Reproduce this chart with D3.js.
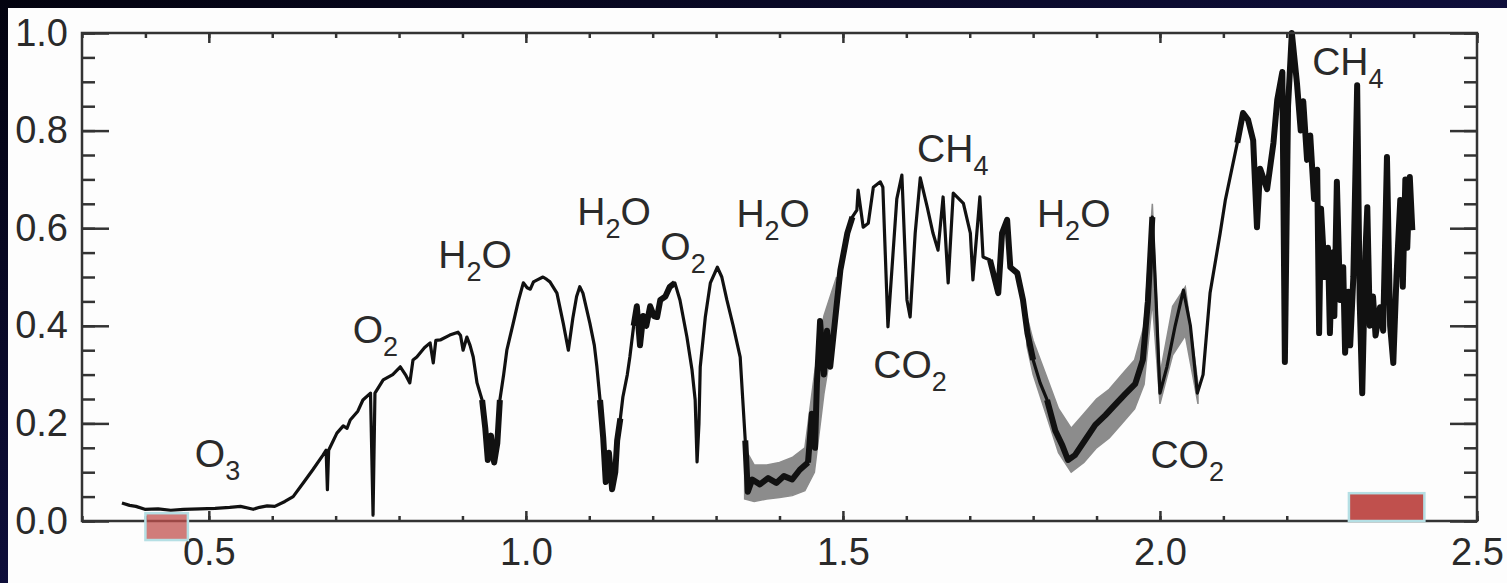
<!DOCTYPE html>
<html>
<head>
<meta charset="utf-8">
<script src="https://cdn.jsdelivr.net/npm/d3@7"></script>
<style>
  html, body { margin: 0; padding: 0; background: #0b0b33; overflow: hidden; }
  text { font-family: "Liberation Sans", Arial, Helvetica, sans-serif; fill: #2a2a2a; }
</style>
</head>
<body>
<div id="vis"></div>
<script>
// spectrum (wavelength in micron, reflectance)
const wavelength = [
  0.363, 0.375, 0.385, 0.399, 0.420, 0.440, 0.460, 0.486, 0.510, 0.533, 0.550, 0.570, 0.580, 0.592, 0.604,
  0.620, 0.633, 0.650, 0.664, 0.680, 0.685, 0.687, 0.689, 0.702, 0.712, 0.718, 0.723, 0.735, 0.743, 0.755,
  0.759, 0.762, 0.775, 0.790, 0.802, 0.810, 0.817, 0.822, 0.828, 0.840, 0.849, 0.854, 0.858, 0.865, 0.880,
  0.893, 0.897, 0.901, 0.907, 0.912, 0.917, 0.923, 0.931, 0.936, 0.940, 0.945, 0.950, 0.955, 0.959, 0.965,
  0.970, 0.980, 0.988, 0.996, 1.002, 1.007, 1.012, 1.018, 1.027, 1.033, 1.038, 1.049, 1.059, 1.067, 1.074,
  1.080, 1.085, 1.090, 1.101, 1.108, 1.112, 1.117, 1.122, 1.126, 1.131, 1.136, 1.141, 1.144, 1.149, 1.153,
  1.160, 1.164, 1.170, 1.175, 1.180, 1.185, 1.190, 1.196, 1.202, 1.207, 1.212, 1.220, 1.227, 1.235, 1.243,
  1.254, 1.262, 1.267, 1.270, 1.273, 1.275, 1.283, 1.291, 1.302, 1.309, 1.317, 1.327, 1.338, 1.342, 1.346,
  1.350, 1.357, 1.369, 1.382, 1.395, 1.407, 1.420, 1.432, 1.445, 1.451, 1.456, 1.459, 1.464, 1.470, 1.475,
  1.480, 1.491, 1.496, 1.507, 1.515, 1.522, 1.524, 1.532, 1.540, 1.548, 1.559, 1.563, 1.571, 1.585, 1.593,
  1.601, 1.606, 1.614, 1.622, 1.633, 1.642, 1.650, 1.658, 1.666, 1.674, 1.690, 1.701, 1.705, 1.716, 1.721,
  1.732, 1.745, 1.751, 1.759, 1.764, 1.775, 1.784, 1.791, 1.800, 1.811, 1.822, 1.835, 1.846, 1.855, 1.866,
  1.882, 1.898, 1.914, 1.929, 1.945, 1.961, 1.973, 1.981, 1.988, 1.994, 2.000, 2.011, 2.024, 2.037, 2.048,
  2.059, 2.068, 2.079, 2.095, 2.103, 2.122, 2.131, 2.139, 2.147, 2.153, 2.158, 2.169, 2.179, 2.185, 2.193,
  2.197, 2.202, 2.208, 2.216, 2.222, 2.226, 2.232, 2.237, 2.243, 2.248, 2.251, 2.254, 2.260, 2.265, 2.268,
  2.272, 2.275, 2.279, 2.284, 2.289, 2.292, 2.297, 2.300, 2.305, 2.311, 2.315, 2.319, 2.324, 2.327, 2.331,
  2.336, 2.340, 2.347, 2.352, 2.358, 2.363, 2.368, 2.373, 2.379, 2.383, 2.387, 2.390, 2.394, 2.398
];
const reflectance = [
  0.037, 0.032, 0.030, 0.024, 0.025, 0.022, 0.024, 0.025, 0.026, 0.028, 0.030, 0.024, 0.028, 0.031, 0.030,
  0.040, 0.050, 0.080, 0.105, 0.135, 0.145, 0.064, 0.145, 0.180, 0.195, 0.190, 0.207, 0.225, 0.248, 0.262,
  0.012, 0.262, 0.289, 0.300, 0.316, 0.300, 0.283, 0.330, 0.336, 0.355, 0.365, 0.324, 0.370, 0.371, 0.381,
  0.387, 0.380, 0.350, 0.377, 0.360, 0.336, 0.283, 0.248, 0.190, 0.125, 0.175, 0.120, 0.160, 0.248, 0.300,
  0.350, 0.405, 0.450, 0.488, 0.478, 0.475, 0.490, 0.494, 0.500, 0.495, 0.490, 0.467, 0.405, 0.350, 0.415,
  0.460, 0.480, 0.467, 0.405, 0.360, 0.316, 0.248, 0.170, 0.080, 0.140, 0.065, 0.100, 0.165, 0.210, 0.254,
  0.300, 0.336, 0.400, 0.440, 0.360, 0.420, 0.400, 0.440, 0.420, 0.418, 0.453, 0.460, 0.480, 0.488, 0.453,
  0.377, 0.310, 0.248, 0.121, 0.200, 0.316, 0.418, 0.488, 0.520, 0.500, 0.453, 0.400, 0.336, 0.250, 0.165,
  0.060, 0.085, 0.075, 0.088, 0.078, 0.092, 0.085, 0.105, 0.120, 0.220, 0.150, 0.283, 0.410, 0.300, 0.390,
  0.316, 0.453, 0.514, 0.590, 0.623, 0.637, 0.678, 0.602, 0.610, 0.684, 0.695, 0.684, 0.398, 0.660, 0.709,
  0.453, 0.418, 0.590, 0.703, 0.643, 0.590, 0.555, 0.664, 0.488, 0.672, 0.651, 0.590, 0.494, 0.664, 0.541,
  0.535, 0.467, 0.590, 0.617, 0.520, 0.508, 0.453, 0.385, 0.330, 0.283, 0.248, 0.185, 0.155, 0.125, 0.135,
  0.166, 0.197, 0.217, 0.238, 0.260, 0.281, 0.330, 0.450, 0.623, 0.450, 0.262, 0.316, 0.400, 0.473, 0.400,
  0.262, 0.300, 0.467, 0.590, 0.657, 0.775, 0.836, 0.822, 0.780, 0.602, 0.722, 0.680, 0.775, 0.863, 0.920,
  0.326, 0.850, 1.000, 0.898, 0.800, 0.860, 0.740, 0.790, 0.660, 0.720, 0.385, 0.640, 0.500, 0.560, 0.385,
  0.550, 0.420, 0.695, 0.453, 0.520, 0.345, 0.470, 0.360, 0.500, 0.893, 0.450, 0.262, 0.550, 0.643, 0.400,
  0.460, 0.380, 0.438, 0.390, 0.746, 0.400, 0.324, 0.500, 0.658, 0.480, 0.700, 0.560, 0.705, 0.596
];

// grey uncertainty envelope, shown where it sticks out from the line (null = gap)
const bandWave = [1.345, 1.36, 1.38, 1.40, 1.42, 1.44, 1.455, 1.47, 1.49, null,
  1.79, 1.80, 1.82, 1.84, 1.86, 1.88, 1.90, 1.92, 1.94, 1.96, 1.975, 1.988, 2.00, 2.02, 2.04, 2.06];
const bandLow = [0.045, 0.040, 0.045, 0.048, 0.052, 0.062, 0.10, 0.26, 0.42, null,
  0.36, 0.30, 0.22, 0.14, 0.10, 0.12, 0.15, 0.17, 0.20, 0.23, 0.28, 0.45, 0.24, 0.34, 0.38, 0.24];
const bandHigh = [0.15, 0.115, 0.115, 0.12, 0.13, 0.15, 0.30, 0.42, 0.50, null,
  0.42, 0.37, 0.30, 0.23, 0.19, 0.22, 0.25, 0.27, 0.30, 0.33, 0.40, 0.65, 0.30, 0.44, 0.48, 0.28];

// wavelength stretches where the measured trace is noisy and looks heavier
const noisyFrom = [0.925, 1.115, 1.165, 1.345, 1.445, 1.725, 1.820, 2.120];
const noisyTo = [0.960, 1.150, 1.240, 1.450, 1.520, 1.800, 1.990, 2.400];

const xTickValues = [0.5, 1.0, 1.5, 2.0, 2.5];
const yTickValues = [0.0, 0.2, 0.4, 0.6, 0.8, 1.0];

// molecule annotations: name, left edge (micron), baseline (reflectance)
const moleculeNames = ['O3', 'O2', 'H2O', 'H2O', 'O2', 'H2O', 'CH4', 'CO2', 'H2O', 'CO2', 'CH4'];
const moleculeWave = [0.478, 0.727, 0.862, 1.081, 1.212, 1.332, 1.617, 1.548, 1.806, 1.985, 2.240];
const moleculeLevel = [0.111, 0.365, 0.518, 0.607, 0.535, 0.602, 0.736, 0.293, 0.602, 0.109, 0.914];

// red highlight boxes: [from, to] micron, [bottom, top] reflectance
const boxWave = [[0.400, 0.467], [2.298, 2.417]];
const boxLevel = [[-0.039, 0.016], [0.0, 0.057]];
const boxFill = ['#c0504d', '#c0504d'];
const boxOpacity = [0.75, 1];

function spectrumChart() {
  const width = 1507;
  const height = 583;
  const plot = { left: 82, right: 1477, top: 33, bottom: 521 };

  const svg = d3.select('#vis').append('svg')
    .attr('width', width)
    .attr('height', height);

  const defs = svg.append('defs');
  const grad = defs.append('linearGradient')
    .attr('id', 'bg')
    .attr('x1', '0%').attr('y1', '0%')
    .attr('x2', '100%').attr('y2', '100%');
  grad.append('stop').attr('offset', '0%').attr('stop-color', '#03030f');
  grad.append('stop').attr('offset', '100%').attr('stop-color', '#1a1a66');

  svg.append('rect').attr('width', width).attr('height', height).attr('fill', 'url(#bg)');
  svg.append('rect')
    .attr('x', 8).attr('y', 8)
    .attr('width', width - 8).attr('height', height - 8)
    .attr('fill', '#fdfdfd');

  const x = d3.scaleLinear().domain([0.3, 2.5]).range([plot.left, plot.right]);
  const y = d3.scaleLinear().domain([0, 1]).range([plot.bottom, plot.top]);

  // uncertainty band
  const band = bandWave.map((w, i) => ({ w: w, lo: bandLow[i], hi: bandHigh[i] }));
  svg.append('path')
    .datum(band)
    .attr('fill', '#8c8c8c')
    .attr('stroke', '#8c8c8c')
    .attr('stroke-width', 1.5)
    .attr('d', d3.area()
      .defined((d) => d.w !== null)
      .x((d) => x(d.w))
      .y0((d) => y(d.lo))
      .y1((d) => y(d.hi)));

  // spectrum: thin trace everywhere, heavier over the noisy stretches
  const points = wavelength.map((w, i) => [w, reflectance[i]]);
  const line = d3.line().x((d) => x(d[0])).y((d) => y(d[1]));

  svg.append('path')
    .datum(points)
    .attr('fill', 'none')
    .attr('stroke', '#111')
    .attr('stroke-width', 3.2)
    .attr('stroke-linejoin', 'round')
    .attr('d', line);

  noisyFrom.forEach((from, i) => {
    const piece = points.filter((p) => p[0] >= from && p[0] <= noisyTo[i]);
    svg.append('path')
      .datum(piece)
      .attr('fill', 'none')
      .attr('stroke', '#111')
      .attr('stroke-width', 6)
      .attr('stroke-linejoin', 'round')
      .attr('d', line);
  });

  // frame with inward ticks
  const tickColor = '#333';
  function styleAxis(g) {
    g.select('.domain').remove();
    g.selectAll('line').attr('stroke', tickColor).attr('stroke-width', 2.5);
    g.selectAll('text')
      .style('font-size', '38px')
      .attr('fill', '#2a2a2a');
  }

  const xMinor = x.ticks(22);
  const yMinor = y.ticks(20);

  svg.append('g').attr('transform', `translate(0,${plot.bottom})`)
    .call(d3.axisBottom(x).tickValues(xMinor).tickSize(-5).tickFormat(''))
    .call(styleAxis);
  svg.append('g').attr('transform', `translate(0,${plot.bottom})`)
    .call(d3.axisBottom(x).tickValues(xTickValues).tickSize(-10).tickPadding(17)
      .tickFormat(d3.format('.1f')))
    .call(styleAxis);
  svg.append('g').attr('transform', `translate(0,${plot.top})`)
    .call(d3.axisTop(x).tickValues(xMinor).tickSize(-5).tickFormat(''))
    .call(styleAxis);
  svg.append('g').attr('transform', `translate(0,${plot.top})`)
    .call(d3.axisTop(x).tickValues(xTickValues).tickSize(-10).tickFormat(''))
    .call(styleAxis);

  svg.append('g').attr('transform', `translate(${plot.left},0)`)
    .call(d3.axisLeft(y).tickValues(yMinor).tickSize(-13).tickFormat(''))
    .call(styleAxis);
  svg.append('g').attr('transform', `translate(${plot.left},0)`)
    .call(d3.axisLeft(y).tickValues(yTickValues).tickSize(-27).tickPadding(14)
      .tickFormat(d3.format('.1f')))
    .call(styleAxis);
  svg.append('g').attr('transform', `translate(${plot.right},0)`)
    .call(d3.axisRight(y).tickValues(yMinor).tickSize(-13).tickFormat(''))
    .call(styleAxis);
  svg.append('g').attr('transform', `translate(${plot.right},0)`)
    .call(d3.axisRight(y).tickValues(yTickValues).tickSize(-27).tickFormat(''))
    .call(styleAxis);

  svg.append('rect')
    .attr('x', plot.left).attr('y', plot.top)
    .attr('width', plot.right - plot.left).attr('height', plot.bottom - plot.top)
    .attr('fill', 'none')
    .attr('stroke', tickColor)
    .attr('stroke-width', 2.5);

  // molecule labels, digits as subscripts
  moleculeNames.forEach((name, i) => {
    const t = svg.append('text')
      .attr('x', x(moleculeWave[i]))
      .attr('y', y(moleculeLevel[i]))
      .style('font-size', '39px');
    let down = false;
    name.split(/(\d+)/).filter((s) => s.length).forEach((part) => {
      const isSub = /\d/.test(part);
      const span = t.append('tspan').text(part);
      if (isSub) {
        span.style('font-size', '27px').attr('dy', 13);
        down = true;
      } else if (down) {
        span.attr('dy', -13);
        down = false;
      }
    });
  });

  // highlight boxes
  svg.selectAll('.box')
    .data(boxWave)
    .enter().append('rect')
    .classed('box', true)
    .attr('x', (d) => x(d[0]))
    .attr('width', (d) => x(d[1]) - x(d[0]))
    .attr('y', (d, i) => y(boxLevel[i][1]))
    .attr('height', (d, i) => y(boxLevel[i][0]) - y(boxLevel[i][1]))
    .attr('fill', (d, i) => boxFill[i])
    .attr('fill-opacity', (d, i) => boxOpacity[i])
    .attr('stroke', '#b5dfe4')
    .attr('stroke-width', 2.5);
}

spectrumChart();
</script>
</body>
</html>
